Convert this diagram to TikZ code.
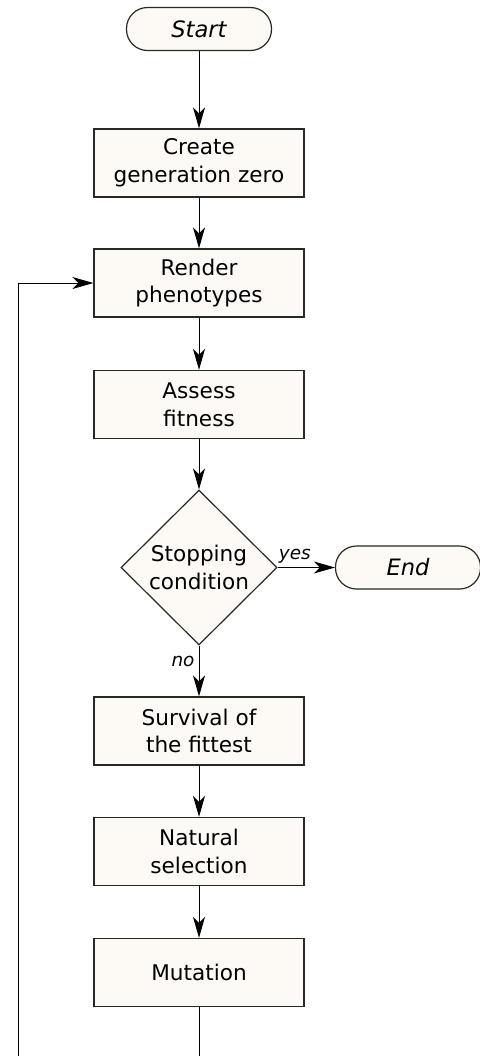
\documentclass[tikz,border=0pt]{standalone}
\usepackage{fontspec}
\setmainfont{DejaVu Sans}
\usetikzlibrary{arrows.meta,shapes.geometric}

\definecolor{boxfill}{RGB}{253,250,245}
\definecolor{boxline}{RGB}{40,40,40}

\tikzset{
  process/.style={
    draw=boxline, fill=boxfill, line width=0.65pt,
    minimum width=105pt, minimum height=34pt,
    inner sep=0pt, align=center},
  terminal/.style={
    rectangle, rounded corners=10.5pt, draw=boxline, fill=boxfill, line width=0.6pt,
    minimum width=72.5pt, minimum height=21.5pt,
    font=\fontsize{11.3}{13.8}\selectfont\itshape},
  decision/.style={
    diamond, draw=boxline, fill=boxfill, line width=0.6pt,
    minimum width=78pt, minimum height=77.5pt,
    inner sep=0pt, align=center},
  flow/.style={-{Stealth[length=10.5pt, width=6pt, inset=3pt]}, line width=0.5pt},
  tag/.style={font=\fontsize{9.2}{11}\selectfont\itshape, inner sep=2pt},
}

\begin{document}
\begin{tikzpicture}[x=0.5pt, y=-0.5pt, font=\fontsize{10.8}{13.8}\selectfont]
    \useasboundingbox (0,0) rectangle (479,1056);
    \node[terminal] (start) at (199,29) {Start};
    % the chain of process steps
    \foreach \name/\y/\txt in {
      create/163/{Create\\generation zero},
      render/283/{Render\\phenotypes},
      assess/404.5/{Assess\\fitness},
      survive/731/{Survival of\\the fittest},
      select/851.5/{Natural\\selection},
      mutate/972.5/{Mutation}%
    } {
        \node[process] (\name) at (199,\y) {\txt};
    }
    \node[decision] (stop) at (199,567.5) {Stopping\\condition};
    \node[terminal] (finish) at (408,567.5) {End};

    \draw[flow] (start) -- (create);
    \draw[flow] (create) -- (render);
    \draw[flow] (render) -- (assess);
    \draw[flow] (assess) -- (stop);
    \draw[flow] (stop) -- node[tag, above, pos=0.3] {yes} (finish);
    \draw[flow] (stop) -- node[tag, left, pos=0.32] {no} (survive);
    \draw[flow] (survive) -- (select);
    \draw[flow] (select) -- (mutate);
    % loop back (its lower run lies below the page edge)
    \coordinate (low) at (199,1080);
    \coordinate (back) at (18,1080);
    \draw[flow] (mutate) -- (low) -- (back) |- (render);
\end{tikzpicture}
\end{document}
